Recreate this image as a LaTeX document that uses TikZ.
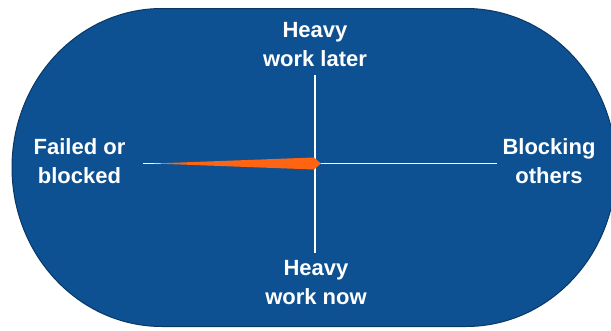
\documentclass[tikz,border=0pt]{standalone}
\usepackage{fontspec}
\setmainfont{Liberation Sans}
\definecolor{bgblue}{HTML}{0D5192}
\definecolor{edgeblue}{HTML}{0A3866}
\definecolor{needle}{HTML}{FF6412}
\tikzset{
  lbl/.style={text=white, font=\fontsize{22}{29.5}\selectfont\bfseries, align=center, inner sep=0pt},
  axisline/.style={white, line width=1.8pt}
}
\begin{document}
\begin{tikzpicture}[x=1pt,y=-1pt]
\useasboundingbox (0,0) rectangle (611,330);
% stadium background
\draw[edgeblue, fill=bgblue, line width=1pt]
  (162,8.5) -- (466,8.5) arc[start angle=-90, end angle=90, x radius=150, y radius=159]
  -- (162,326.5) arc[start angle=90, end angle=270, x radius=150, y radius=159] -- cycle;
% axis end coordinates
\coordinate (c) at (315,163.5);
\coordinate (t) at (315,75);
\coordinate (b) at (315,253);
\coordinate (l) at (143,163.5);
\coordinate (r) at (497,163.5);
\draw[axisline] (t) -- (b);
\draw[axisline] (l) -- (r);
% needle
\coordinate (tip) at (154,163.5);
\fill[needle] (tip) -- (314,157.5) -- (321,163.5) -- (314,169.5) -- cycle;
% labels
\node[lbl] (top) at (315,44.5) {Heavy\\work later};
\node[lbl] (bot) at (316,282.5) {Heavy\\work now};
\node[lbl] (left) at (79.5,161) {Failed or\\blocked};
\node[lbl] (right) at (549,161) {Blocking\\others};
\end{tikzpicture}
\end{document}
